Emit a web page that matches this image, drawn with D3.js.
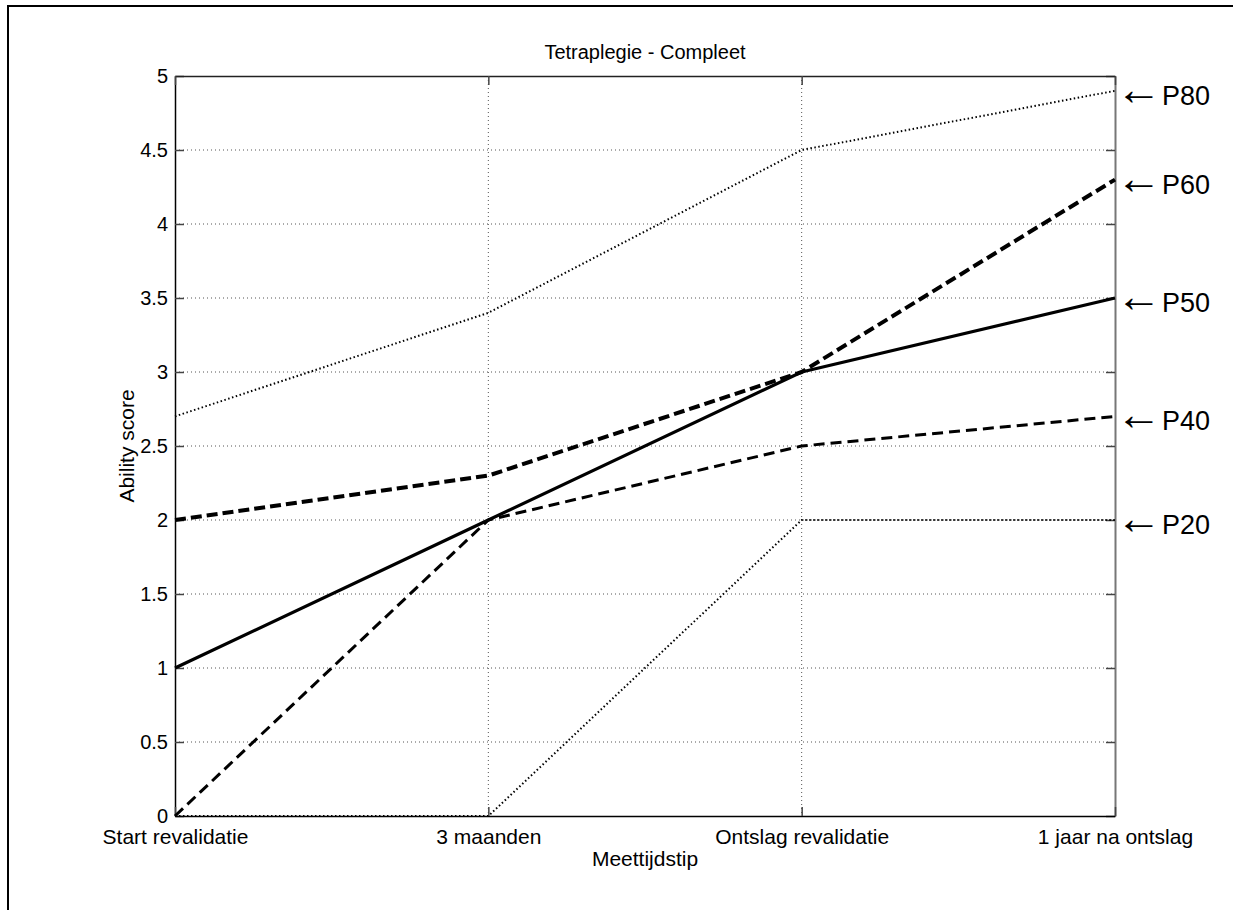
<!DOCTYPE html>
<html>
<head>
<meta charset="utf-8">
<script src="https://cdn.jsdelivr.net/npm/d3@7/dist/d3.min.js"></script>
<style>
  html, body { margin: 0; padding: 0; background: #fff; overflow: hidden; }
  svg { display: block; }
  text { font-family: "Liberation Sans", Arial, Helvetica, sans-serif; fill: #000; }
</style>
</head>
<body>
<svg id="chart" width="1233" height="910"></svg>
<script>
// ---- data ----
const categories = ["Start revalidatie", "3 maanden", "Ontslag revalidatie", "1 jaar na ontslag"];
const p20 = [0, 0, 2, 2];
const p40 = [0, 2, 2.5, 2.7];
const p50 = [1, 2, 3, 3.5];
const p60 = [2, 2.3, 3, 4.3];
const p80 = [2.7, 3.4, 4.5, 4.9];
const yTicks = [0, 0.5, 1, 1.5, 2, 2.5, 3, 3.5, 4, 4.5, 5];
const yTickLabels = ["0", "0.5", "1", "1.5", "2", "2.5", "3", "3.5", "4", "4.5", "5"];
const seriesNames = ["P80", "P60", "P50", "P40", "P20"];
const title = "Tetraplegie - Compleet";
const xTitle = "Meettijdstip";
const yTitle = "Ability score";

// ---- layout ----
const svg = d3.select("#chart");
const L = 175, R = 1115, T = 76, B = 816;
const FONT = "Liberation Sans, Arial, Helvetica, sans-serif";

const x = d3.scalePoint().domain(categories).range([L, R]);
const y = d3.scaleLinear().domain([0, 5]).range([B, T]);

// outer figure border (only top and left edges visible)
svg.append("rect").attr("x", 8).attr("y", 6).attr("width", 1400).attr("height", 1100)
  .attr("fill", "none").attr("stroke", "#000").attr("stroke-width", 2);

// grid
const grid = svg.append("g");
grid.selectAll("line.gy").data(yTicks.slice(1, -1)).enter().append("line")
  .attr("x1", L).attr("x2", R).attr("y1", d => y(d)).attr("y2", d => y(d))
  .attr("stroke", "#555").attr("stroke-width", 1).attr("stroke-dasharray", "1,3");
grid.selectAll("line.gx").data(categories.slice(1, -1)).enter().append("line")
  .attr("x1", d => x(d)).attr("x2", d => x(d)).attr("y1", T).attr("y2", B)
  .attr("stroke", "#555").attr("stroke-width", 1).attr("stroke-dasharray", "1,3");

// axes (MATLAB style: inward ticks, box)
const axL = svg.append("g").attr("transform", `translate(${L},0)`)
  .call(d3.axisLeft(y).tickValues(yTicks).tickFormat((d, i) => yTickLabels[i]).tickSizeInner(-9).tickSizeOuter(0).tickPadding(7));
const axR = svg.append("g").attr("transform", `translate(${R},0)`)
  .call(d3.axisRight(y).tickValues(yTicks).tickFormat("").tickSizeInner(-9).tickSizeOuter(0));
const axB = svg.append("g").attr("transform", `translate(0,${B})`)
  .call(d3.axisBottom(x).tickSizeInner(-9).tickSizeOuter(0).tickPadding(13));
const axT = svg.append("g").attr("transform", `translate(0,${T})`)
  .call(d3.axisTop(x).tickFormat("").tickSizeInner(-9).tickSizeOuter(0));

[axL, axR, axB, axT].forEach(a => {
  a.select(".domain").attr("stroke", "#222").attr("stroke-width", 1.5);
  a.selectAll(".tick line").attr("stroke", "#444").attr("stroke-width", 1.5);
});
axL.select(".domain").attr("stroke", "#000");
axB.select(".domain").attr("stroke", "#000");
axR.select(".domain").attr("stroke", "#777").attr("stroke-width", 2);
axL.selectAll(".tick text").attr("font-size", 20).attr("font-family", FONT).attr("fill", "#000");
axB.selectAll(".tick text").attr("font-size", 21).attr("font-family", FONT).attr("fill", "#000");

// series
const line = d3.line().x((d, i) => x(categories[i])).y(d => y(d));
const seriesDefs = [
  { name: "P80", values: p80, width: 2, dash: "1.5,2.5" },
  { name: "P20", values: p20, width: 2, dash: "1.5,2.5" },
  { name: "P40", values: p40, width: 3, dash: "11,6" },
  { name: "P60", values: p60, width: 4, dash: "11,5" },
  { name: "P50", values: p50, width: 3.2, dash: null }
];
const plot = svg.append("g");
seriesDefs.forEach(s => {
  plot.append("path").datum(s.values)
    .attr("d", line)
    .attr("fill", "none")
    .attr("stroke", "#000")
    .attr("stroke-width", s.width)
    .attr("stroke-dasharray", s.dash)
    .attr("stroke-linejoin", "round");
});

// right-side labels: "← Pxx" as one text element
const labelData = [
  { name: seriesNames[0], v: p80[3] },
  { name: seriesNames[1], v: p60[3] },
  { name: seriesNames[2], v: p50[3] },
  { name: seriesNames[3], v: p40[3] },
  { name: seriesNames[4], v: p20[3] }
];
const lab = svg.append("g");
labelData.forEach(d => {
  const t = lab.append("text").attr("y", y(d.v) + 14);
  t.append("tspan").attr("x", 1116).attr("font-size", 46).text("\u2190");
  t.append("tspan").attr("x", 1162).attr("font-size", 27).text(d.name);
});

// titles
svg.append("text").attr("x", (L + R) / 2).attr("y", 59).attr("text-anchor", "middle")
  .attr("font-size", 20).text(title);
svg.append("text").attr("x", (L + R) / 2).attr("y", 866).attr("text-anchor", "middle")
  .attr("font-size", 21).text(xTitle);
svg.append("text").attr("transform", `translate(134,${(T + B) / 2}) rotate(-90)`)
  .attr("text-anchor", "middle").attr("font-size", 21).text(yTitle);
</script>
</body>
</html>
